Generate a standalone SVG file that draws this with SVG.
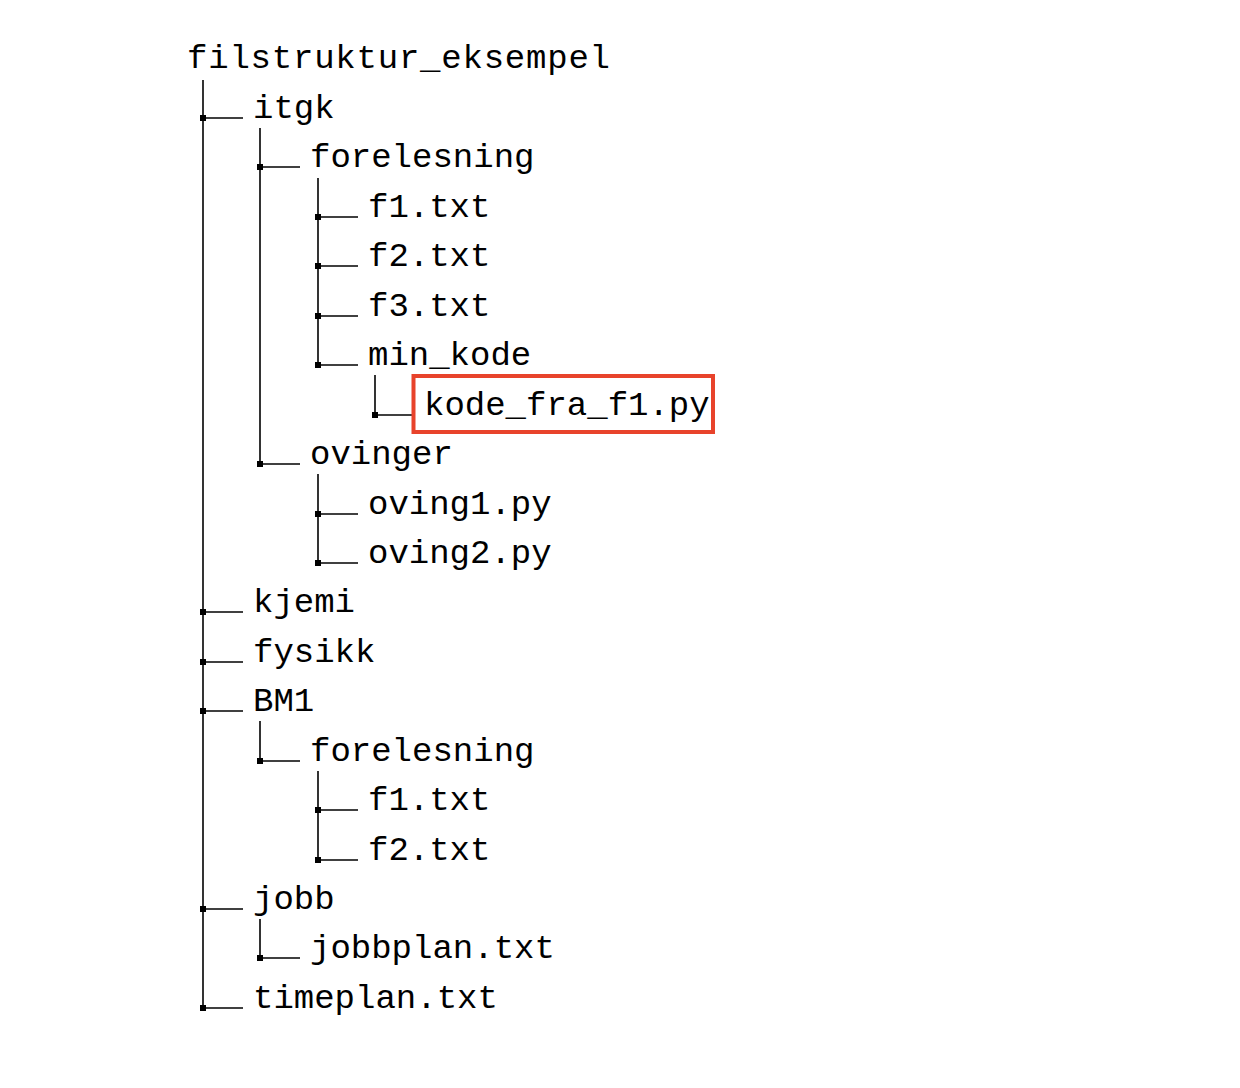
<svg xmlns="http://www.w3.org/2000/svg" width="1240" height="1088" viewBox="0 0 1240 1088">
<style>
text{font-family:"Liberation Mono","DejaVu Sans Mono",monospace;font-size:34px;fill:#000}
.c line{stroke:#000;stroke-width:1.6}
.c rect{fill:#000}
</style>
<defs>
<rect id="d" x="-3" y="-3" width="6" height="6"/>
</defs>
<rect width="1240" height="1088" fill="#fff"/>
<g class="c" id="connectors">
<line x1="203" y1="80" x2="203" y2="1008"/>
<line x1="260" y1="128" x2="260" y2="464"/>
<line x1="318" y1="178" x2="318" y2="365"/>
<line x1="375" y1="375" x2="375" y2="415"/>
<line x1="318" y1="474" x2="318" y2="563"/>
<line x1="260" y1="721" x2="260" y2="761"/>
<line x1="318" y1="771" x2="318" y2="860"/>
<line x1="260" y1="919" x2="260" y2="958"/>
<line x1="203" y1="118" x2="243" y2="118"/><use href="#d" x="203" y="118"/>
<line x1="260" y1="167" x2="300" y2="167"/><use href="#d" x="260" y="167"/>
<line x1="318" y1="217" x2="358" y2="217"/><use href="#d" x="318" y="217"/>
<line x1="318" y1="266" x2="358" y2="266"/><use href="#d" x="318" y="266"/>
<line x1="318" y1="316" x2="358" y2="316"/><use href="#d" x="318" y="316"/>
<line x1="318" y1="365" x2="358" y2="365"/><use href="#d" x="318" y="365"/>
<line x1="375" y1="415" x2="415" y2="415"/><use href="#d" x="375" y="415"/>
<line x1="260" y1="464" x2="300" y2="464"/><use href="#d" x="260" y="464"/>
<line x1="318" y1="514" x2="358" y2="514"/><use href="#d" x="318" y="514"/>
<line x1="318" y1="563" x2="358" y2="563"/><use href="#d" x="318" y="563"/>
<line x1="203" y1="612" x2="243" y2="612"/><use href="#d" x="203" y="612"/>
<line x1="203" y1="662" x2="243" y2="662"/><use href="#d" x="203" y="662"/>
<line x1="203" y1="711" x2="243" y2="711"/><use href="#d" x="203" y="711"/>
<line x1="260" y1="761" x2="300" y2="761"/><use href="#d" x="260" y="761"/>
<line x1="318" y1="810" x2="358" y2="810"/><use href="#d" x="318" y="810"/>
<line x1="318" y1="860" x2="358" y2="860"/><use href="#d" x="318" y="860"/>
<line x1="203" y1="909" x2="243" y2="909"/><use href="#d" x="203" y="909"/>
<line x1="260" y1="958" x2="300" y2="958"/><use href="#d" x="260" y="958"/>
<line x1="203" y1="1008" x2="243" y2="1008"/><use href="#d" x="203" y="1008"/>
</g>
<g id="n0"><text x="187" y="68" textLength="423" lengthAdjust="spacing">filstruktur_eksempel</text></g>
<g id="n1"><text x="253" y="118">itgk</text></g>
<g id="n2"><text x="310" y="167">forelesning</text></g>
<g id="n3"><text x="368" y="217">f1.txt</text></g>
<g id="n4"><text x="368" y="266">f2.txt</text></g>
<g id="n5"><text x="368" y="316">f3.txt</text></g>
<g id="n6"><text x="368" y="365">min_kode</text></g>
<g id="n7"><rect x="413.5" y="376" width="299.5" height="56" fill="none" stroke="#E8432B" stroke-width="4"/><text x="424" y="415">kode_fra_f1.py</text></g>
<g id="n8"><text x="310" y="464">ovinger</text></g>
<g id="n9"><text x="368" y="514">oving1.py</text></g>
<g id="n10"><text x="368" y="563">oving2.py</text></g>
<g id="n11"><text x="253" y="612">kjemi</text></g>
<g id="n12"><text x="253" y="662">fysikk</text></g>
<g id="n13"><text x="253" y="711">BM1</text></g>
<g id="n14"><text x="310" y="761">forelesning</text></g>
<g id="n15"><text x="368" y="810">f1.txt</text></g>
<g id="n16"><text x="368" y="860">f2.txt</text></g>
<g id="n17"><text x="253" y="909">jobb</text></g>
<g id="n18"><text x="310" y="958">jobbplan.txt</text></g>
<g id="n19"><text x="253" y="1008">timeplan.txt</text></g>
</svg>
